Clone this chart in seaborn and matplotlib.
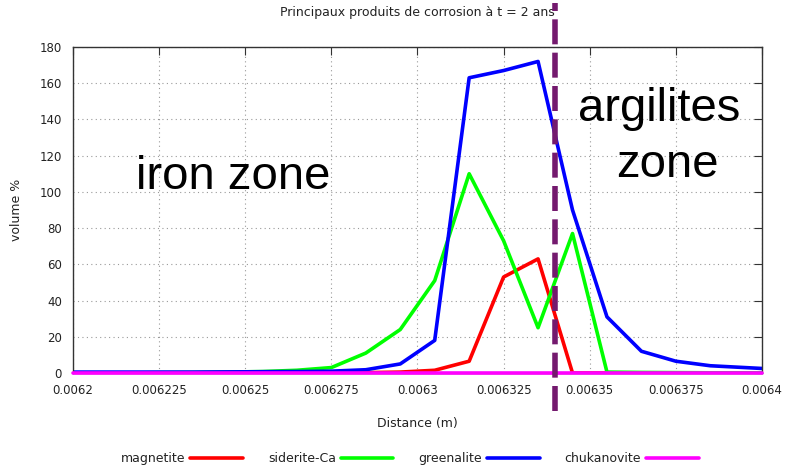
import matplotlib
matplotlib.use("Agg")
import matplotlib.pyplot as plt
import seaborn as sns
import pandas as pd

# distances of the cell centres (m)
distance = [0.0062, 0.006205, 0.006215, 0.006225, 0.006235, 0.006245, 0.006255, 0.006265,
            0.006275, 0.006285, 0.006295, 0.006305, 0.006315, 0.006325, 0.006335,
            0.006345, 0.006355, 0.006365, 0.006375, 0.006385, 0.006395, 0.0064]

# volume % of each corrosion product
magnetite = [0, 0, 0, 0, 0, 0, 0, 0, 0, 0.2, 0.5, 1.5, 6.5, 53, 63,
             0, 0, 0, 0, 0, 0, 0]
siderite_ca = [0, 0, 0, 0.2, 0.3, 0.5, 0.8, 1.5, 3, 11, 24, 51, 110, 73, 25,
               77, 0.5, 0.3, 0.2, 0.1, 0.1, 0.1]
greenalite = [0.5, 0.5, 0.5, 0.5, 0.5, 0.6, 0.7, 0.8, 1.0, 1.8, 5, 18, 163, 167, 172,
              90, 31, 12, 6.5, 4, 3, 2.5]
chukanovite = [0, 0, 0, 0, 0, 0, 0, 0, 0, 0, 0, 0, 0, 0, 0,
               0, 0, 0, 0, 0, 0, 0]

series_names = ["magnetite", "siderite-Ca", "greenalite", "chukanovite"]
series_colors = ["#ff0000", "#00ff00", "#0000ff", "#ff00ff"]

x_ticks = [0.0062, 0.006225, 0.00625, 0.006275, 0.0063, 0.006325, 0.00635, 0.006375, 0.0064]
x_tick_labels = ["0.0062", "0.006225", "0.00625", "0.006275", "0.0063",
                 "0.006325", "0.00635", "0.006375", "0.0064"]
y_ticks = [0, 20, 40, 60, 80, 100, 120, 140, 160, 180]

boundary = 0.00634

sns.set_style("white")
plt.rcParams['font.family'] = ['DejaVu Sans']
plt.rcParams['text.color'] = '#222222'

fig = plt.figure(figsize=(7.88, 4.68), dpi=100)
ax = fig.add_axes([0.0926, 0.203, 0.8744, 0.6966])

df = pd.DataFrame({"distance": distance, "magnetite": magnetite,
                   "siderite-Ca": siderite_ca, "greenalite": greenalite,
                   "chukanovite": chukanovite})

handles = []
for name, col in zip(series_names, series_colors):
    sns.lineplot(data=df, x="distance", y=name, ax=ax, color=col, lw=2.6,
                 sort=False, label=name, legend=False)
    handles.append(ax.get_lines()[-1])
# chukanovite sits on the bottom spine
handles[-1].set_clip_on(False)
handles[-1].set_zorder(5)

ax.set_xlim(0.0062, 0.0064)
ax.set_ylim(0, 180)
ax.set_xticks(x_ticks)
ax.set_xticklabels(x_tick_labels)
ax.set_yticks(y_ticks)
ax.tick_params(direction='in', length=6, top=True, right=True, labelsize=8.5,
               color='#333333', labelcolor='#222222', pad=8)
ax.grid(True, linestyle=(0, (1, 3)), color='#999999', lw=0.8)
for sp in ax.spines.values():
    sp.set_color('#333333')
    sp.set_linewidth(1.0)

ax.set_xlabel("Distance (m)", fontsize=9, labelpad=14, color='#222222')
ax.set_ylabel("volume %", fontsize=9, labelpad=12, color='#222222')
ax.set_title("Principaux produits de corrosion à t = 2 ans", fontsize=9, pad=22,
             color='#222222')

# zone boundary
ax.axvline(boundary, ymin=-0.117, ymax=1.135, clip_on=False, color='#74196e',
           lw=4, dashes=(4.5, 1.5), zorder=10)

ax.text(0.0062 + 0.0002 * 0.233, 108, "iron zone", fontsize=34, color='black',
        family='Liberation Sans', ha='center', va='center')
ax.text(0.0062 + 0.0002 * 0.851, 146, "argilites", fontsize=34, color='black',
        family='Liberation Sans', ha='center', va='center')
ax.text(0.0062 + 0.0002 * 0.862, 115, "zone", fontsize=34, color='black',
        family='Liberation Sans', ha='center', va='center')

fig.legend(handles=handles, labels=series_names, loc='center', ncol=4,
           bbox_to_anchor=(0.52, 0.02), frameon=False, markerfirst=False,
           handlelength=4.2, handletextpad=0.4, columnspacing=2.0, fontsize=9)

fig.savefig("out.png", dpi=100)
